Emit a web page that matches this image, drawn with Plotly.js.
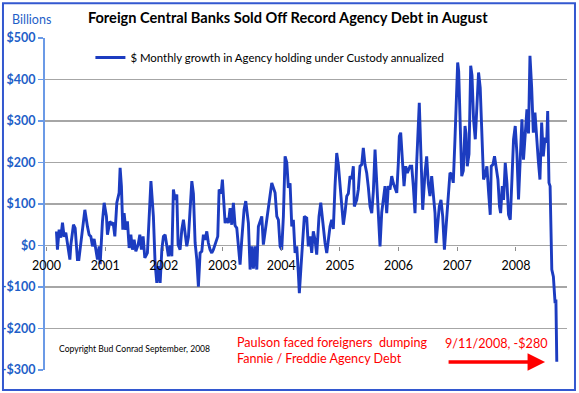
<!DOCTYPE html>
<html><head><meta charset="utf-8">
<script src="https://cdn.plot.ly/plotly-3.0.1.min.js"></script>
<style>html,body{margin:0;padding:0;background:#fff}#chart{width:579px;height:393px}</style>
</head><body><div id="chart"></div>
<script>
// decimal year of each reading
var weekYears = [
2000.170,2000.187,2000.216,2000.245,2000.273,2000.301,2000.330,2000.370,2000.399,2000.416,
2000.460,2000.489,2000.528,2000.552,2000.586,2000.654,2000.698,2000.727,2000.756,2000.784,
2000.812,2000.841,2000.869,2000.898,2000.915,2000.954,2000.983,2001.022,2001.039,2001.080,
2001.110,2001.136,2001.165,2001.199,2001.238,2001.255,2001.277,2001.301,2001.323,2001.352,
2001.380,2001.409,2001.438,2001.465,2001.494,2001.523,2001.562,2001.591,2001.618,2001.647,
2001.676,2001.720,2001.780,2001.822,2001.851,2001.880,2001.908,2001.937,2001.966,2001.993,
2002.022,2002.078,2002.107,2002.136,2002.163,2002.192,2002.221,2002.243,2002.277,2002.306,
2002.334,2002.362,2002.391,2002.419,2002.448,2002.477,2002.504,2002.533,2002.562,2002.589,
2002.618,2002.647,2002.674,2002.703,2002.732,2002.759,2002.788,2002.817,2002.844,2002.885,
2002.919,2002.942,2002.976,2002.998,2003.022,2003.044,2003.073,2003.100,2003.129,2003.158,
2003.185,2003.214,2003.243,2003.271,2003.299,2003.328,2003.367,2003.396,2003.441,2003.470,
2003.498,2003.526,2003.555,2003.584,2003.611,2003.669,2003.696,2003.754,2003.781,2003.839,
2003.896,2003.925,2003.952,2003.981,2004.009,2004.037,2004.066,2004.095,2004.122,2004.151,
2004.180,2004.207,2004.236,2004.265,2004.292,2004.309,2004.338,2004.394,2004.435,2004.462,
2004.491,2004.520,2004.547,2004.576,2004.605,2004.644,2004.674,2004.701,2004.747,2004.776,
2004.803,2004.832,2004.861,2004.888,2004.917,2004.946,2004.974,2005.003,2005.032,2005.059,
2005.088,2005.117,2005.144,2005.173,2005.202,2005.229,2005.246,2005.287,2005.314,2005.343,
2005.372,2005.399,2005.428,2005.457,2005.485,2005.514,2005.543,2005.570,2005.599,2005.628,
2005.655,2005.684,2005.713,2005.740,2005.769,2005.798,2005.825,2005.854,2005.883,2005.911,
2005.940,2005.969,2005.996,2006.013,2006.036,2006.064,2006.093,2006.122,2006.149,2006.195,
2006.224,2006.251,2006.280,2006.309,2006.336,2006.353,2006.382,2006.411,2006.450,2006.479,
2006.506,2006.535,2006.564,2006.592,2006.621,2006.638,2006.667,2006.694,2006.723,2006.752,
2006.781,2006.809,2006.847,2006.876,2006.905,2006.932,2006.961,2006.990,2007.007,2007.024,
2007.047,2007.076,2007.103,2007.132,2007.149,2007.171,2007.200,2007.229,2007.251,2007.278,
2007.307,2007.336,2007.363,2007.391,2007.420,2007.448,2007.476,2007.505,2007.533,2007.562,
2007.579,2007.608,2007.635,2007.664,2007.693,2007.720,2007.739,2007.767,2007.789,2007.818,
2007.847,2007.874,2007.903,2007.932,2007.959,2007.988,2008.017,2008.044,2008.073,2008.102,
2008.129,2008.158,2008.187,2008.214,2008.239,2008.268,2008.296,2008.324,2008.353,2008.380,
2008.409,2008.438,2008.466,2008.495,2008.524,2008.541,2008.563,2008.582,2008.611,2008.638,
2008.667,2008.681,2008.696
];
// $ billions, monthly growth annualized
var growthBillions = [
34,-10,38,19,55,21,31,-14,-34,2,
50,42,-34,-34,10,86,46,26,22,-2,
16,-10,-34,-2,-45,58,103,70,26,58,
52,55,22,103,127,187,143,38,78,38,
58,-6,26,-10,14,-14,2,26,-10,22,
-30,-18,155,70,-42,-90,-50,-90,-10,22,
26,-26,0,-26,135,110,123,2,-10,38,
62,30,-2,20,80,155,125,6,-34,-99,
-18,-14,26,14,34,6,-10,-18,-10,6,
22,135,125,159,110,54,66,54,90,50,
103,48,42,6,-46,14,86,107,54,-58,
-2,-56,-2,-58,46,70,2,62,94,151,
127,70,62,-2,-10,70,215,200,139,150,
46,62,-18,-2,-66,-115,-50,70,66,-2,
22,-18,34,14,-22,70,103,62,6,-18,
14,46,62,40,143,223,195,151,110,50,
80,119,125,167,160,191,94,110,135,191,
195,235,195,175,140,94,78,130,231,150,
46,-2,80,119,143,78,143,135,167,150,
140,127,199,263,272,215,143,191,175,191,
191,143,78,200,312,344,215,86,175,215,
150,119,167,130,78,6,60,94,110,70,
-10,40,127,175,171,151,256,376,441,420,
312,167,180,288,270,191,220,433,410,304,
256,340,417,380,288,159,170,191,130,74,
191,195,215,191,159,94,78,143,110,199,
150,74,62,160,256,288,220,111,220,304,
207,270,328,270,457,380,272,320,250,207,
159,296,215,260,248,324,151,143,-58,-75,
-139,-130,-280
];
var yearTicks = [2000,2001,2002,2003,2004,2005,2006,2007,2008];
var yearLabels = ["2000","2001","2002","2003","2004","2005","2006","2007","2008"];
var dollarTicks = [-300,-200,-100,0,100,200,300,400,500];
var dollarLabels = ["-$300","-$200","-$100","$0","$100","$200","$300","$400","$500"];
var seriesName = "$ Monthly growth in Agency holding under Custody annualized";

var FONT = "Lato, 'Open Sans', sans-serif";
var trace = {
  x: weekYears, y: growthBillions, type: "scatter", mode: "lines",
  name: seriesName,
  line: {color: "#1c3cc0", width: 2.9, shape: "linear"},
  hoverinfo: "x+y"
};

var layout = {
  width: 579, height: 393,
  margin: {l: 45, r: 12, t: 38, b: 23, pad: 0},
  paper_bgcolor: "#ffffff", plot_bgcolor: "#ffffff",
  font: {family: FONT, color: "#000"},
  title: {
    text: "Foreign Central Banks Sold Off Record Agency Debt in August",
    x: 0.497, xref: "container", xanchor: "center",
    y: 0.954, yref: "container", yanchor: "middle",
    font: {family: FONT, size: 14.6, weight: "bold", color: "#000"}
  },
  showlegend: true,
  legend: {
    x: 0.087, y: 0.985, xanchor: "left", yanchor: "top",
    bgcolor: "rgba(0,0,0,0)", borderwidth: 0,
    font: {family: FONT, size: 11.4, color: "#000"}
  },
  xaxis: {
    type: "linear", range: [1999.975, 2008.87],
    tickvals: yearTicks, ticktext: yearLabels,
    anchor: "free", position: 0.375,
    showgrid: false, zeroline: false, showline: false,
    ticks: "outside", ticklen: 4, tickcolor: "#8c8c8c", tickwidth: 1,
    ticklabelstandoff: 4,
    tickfont: {family: FONT, size: 12.5, color: "#000"}
  },
  yaxis: {
    range: [-300, 500], tickvals: dollarTicks, ticktext: dollarLabels,
    showgrid: true, gridcolor: "#a6a6a6", gridwidth: 1.3,
    zeroline: false, showline: true, linecolor: "#6b9ae6", linewidth: 2,
    ticks: "outside", ticklen: 5, tickcolor: "#6b9ae6", tickwidth: 1.5,
    tickfont: {family: FONT, size: 12.5, weight: "bold", color: "#1f5fc8"}
  },
  shapes: [
    {type: "rect", xref: "paper", yref: "paper",
     x0: -0.0805, x1: 1.0153, y0: -0.0602, y1: 1.105,
     line: {color: "#3358d0", width: 2}, fillcolor: "rgba(0,0,0,0)", layer: "above"}
  ],
  annotations: [
    {text: "Billions", xref: "paper", yref: "paper", x: -0.026, y: 1.057,
     xanchor: "center", yanchor: "middle", showarrow: false,
     font: {family: FONT, size: 12.5, color: "#1f5fc8"}},
    {text: "Copyright Bud Conrad September, 2008", xref: "paper", yref: "paper",
     x: 0.1705, y: 0.063, xanchor: "center", yanchor: "middle", showarrow: false,
     font: {family: FONT, size: 8.6, color: "#000"}},
    {text: "Paulson faced foreigners  dumping<br>Fannie / Freddie Agency Debt", xref: "paper", yref: "paper",
     x: 0.364, y: 0.060, xanchor: "left", yanchor: "middle", align: "left", showarrow: false,
     font: {family: FONT, size: 12.6, color: "#ff0000"}},
    {text: "9/11/2008, -$280", xref: "paper", yref: "paper",
     x: 0.762, y: 0.0813, xanchor: "left", yanchor: "middle", showarrow: false,
     font: {family: FONT, size: 12.6, color: "#ff0000"}},
    {text: "", xref: "paper", yref: "paper", x: 0.958, y: 0.024,
     ax: -98, ay: 0, showarrow: true, arrowhead: 2, arrowsize: 1, arrowwidth: 3.5,
     arrowcolor: "#ff0000"}
  ]
};

Plotly.newPlot("chart", [trace], layout, {displayModeBar: false, staticPlot: true});
</script>
</body></html>
